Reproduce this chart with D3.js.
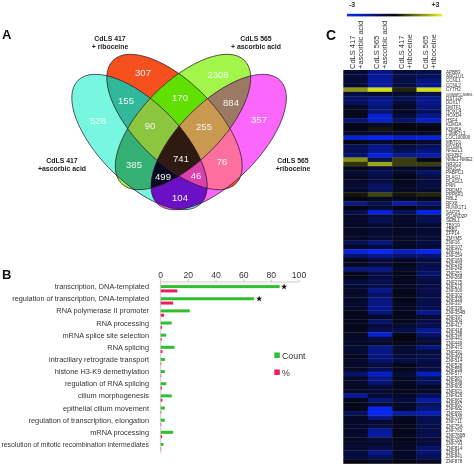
<!DOCTYPE html>
<html><head><meta charset="utf-8">
<script src="https://cdn.jsdelivr.net/npm/d3@7"></script>
<style>html,body{margin:0;padding:0;background:#fff}svg{display:block;filter:blur(0.4px)}text{font-family:"Liberation Sans",Arial,sans-serif}</style>
</head><body><svg id="c" width="474" height="466"></svg>
<script>
// ---- Panel A data
const vennSets = ["C","O","G","M"];
const vennCounts = [528,307,2308,357,155,170,884,385,76,104,90,255,499,46,741];
const vennKeys = ["C","O","G","M","CO","OG","GM","CG","OM","CM","COG","OGM","CGM","COM","COGM"];
const vennColors = ["#78f7e0","#f5501e","#a4f54a","#fb66fb","#2fb99a","#5fe000","#9a7a62","#35b074","#fd6f9f","#6a10c6","#8cc63f","#c8994f","#0a0a1e","#dc3fae","#2e1a10"];
const setNames = [["CdLS 417","+ascorbic acid"],["CdLS 417","+ riboceine"],["CdLS 565","+ ascorbic acid"],["CdLS 565","+riboceine"]];
// ---- Panel B data
const terms = ["transcription, DNA-templated","regulation of transcription, DNA-templated","RNA polymerase II promoter ","RNA processing","mRNA splice site selection","RNA splicing","intraciliary retrograde transport","histone H3-K9 demethylation","regulation of RNA splicing","cilium morphogenesis","epithelial cilium movement","regulation of transcription, elongation","mRNA processing ","resolution of mitotic recombination intermediates"];
const countVals = [86,67.5,21,8,4,10,3,3,4,8,3,3,9,2];
const pctVals = [12,9,2.5,1,0.7,1.3,0.4,0.4,0.9,1.2,0.4,0.4,1,0.3];
const barTicks = [0,20,40,60,80,100];
// ---- Panel C data
const genes = ["APBB3","ARGLU1","CCNL1","CCNL2","CYTH2","GGNBP2-SMB1","DST32F","DDX17","DMTF1","HOXC4","HOXD4","HSF4","KDM3A","KDM5A","L3MBTL3","LOC100000","MBTD1","MYSM1","NFE2L3","NFKBIZ","NME1-NME2","NR3G3","NR2C2","PABPC1","PLAG1","PLAGL1","PNN","PRDM2","PPP6R1","RBL2","RFX8","RUNX1T1","SAP25","SCAND2P","SEBL1","TBX19","ZBB1","ZFP14","ZMYM5","ZNF16","ZNF107","ZNF117","ZNF154","ZNF169","ZNF234","ZNF248","ZNF251","ZNF268","ZNF275","ZNF279","ZNF300","ZNF302","ZNF329","ZNF337","ZNF338","ZNF354B","ZNF397","ZNF404","ZNF417","ZNF418","ZNF438","ZNF441","ZNF449","ZNF471","ZNF491","ZNF493","ZNF514","ZNF528","ZNF559","ZNF577","ZNF587","ZNF599","ZNF605","ZNF621","ZNF626","ZNF662","ZNF667","ZNF682","ZNF692","ZNF700","ZNF711","ZNF75A","ZNF763","ZNF780B","ZNF782","ZNF793","ZNF814","ZNF81","ZNF841","ZNF878"];
const heatCols = [["CdLS 417","+ascorbic acid"],["CdLS 565","+ascorbic acid"],["CdLS 417","+riboceine"],["CdLS 565","+riboceine"]];
const h417asc = [-.5,-.6,-.5,-.5,1.8,-.7,-1.1,-1,-.3,-.2,-.2,-1.3,-.2,-.2,-.4,-2.5,-.1,-.9,-.9,-1.2,1.7,.6,-.2,-.5,-.3,-.3,-.5,-.4,.2,-.1,-1.5,-.1,-.8,-.3,-.4,-.3,-.3,-.3,-.3,-.9,-.4,-2.6,-1.2,-.2,-.2,-1.5,-.2,-.2,-.7,-.5,-.4,-.4,-.4,-.5,-.4,-.2,-.2,-.2,-.2,-.2,-.3,-.4,-.3,-.5,-.5,-.2,-.4,-.4,-.3,-1.2,-.4,-.4,-.3,-.3,-1.8,-.2,-.2,-.2,-1,-.3,-.4,-.4,-.4,-.4,-.3,-.4,-.5,-.6,-.7,-.1];
const h565asc = [-1.5,-1.7,-1.8,-1.8,2.7,-.5,-1.5,-1.6,-1.2,-1.3,-2.4,-2.3,-.4,.2,-.5,-2.8,-.4,-1.5,-1.6,-2.6,-.8,2,-.5,-.9,-.6,-.7,-1.1,-1,.8,-.3,-.8,-.5,-2.6,-.7,-.9,-.5,-.5,-.5,-.5,-1.5,-.6,-2.9,-1.6,-.6,-.5,-1.6,-.7,-.7,-.9,-.8,-1.6,-1.1,-1.4,-1.5,-1.6,-1.3,-.4,-1.2,-.6,-.9,-2.4,-.7,-.3,-1.5,-1.5,-1.4,-1.2,-.6,-.9,-2.3,-1.5,-1.3,-.6,-.5,-.5,-1.4,-.5,-2.8,-2.9,-1.5,-.5,-.6,-1.8,-1.9,-.5,-.5,-.7,-1.6,-1,-.3];
const h417rib = [-.6,-.8,-.7,-.7,.4,-.5,-.9,-.6,-.3,-.3,-.6,-1.2,-.1,-.1,-.3,-2.4,-.1,-.7,-.9,-1.6,.7,.7,-.3,-.4,-.2,-.2,-.4,-.3,.2,-.2,-1.9,-.1,-1,-.4,-.4,-.3,-.3,-.3,-.3,-.4,-.3,-2.2,-1.2,-.3,-.2,-.4,-.2,-.2,-.3,-.3,-.2,-.2,-.2,-.3,-.3,-.2,-.2,-.2,-.5,-.8,-.2,-.1,-.2,-.5,-.5,-.6,-.7,-.2,-.2,-.5,-.3,-.3,-.2,-.2,-.4,-.6,-.4,-.4,-1.9,-.3,-.2,-.2,-.2,-.2,-.2,-.3,-.3,-.3,-.4,-.1];
const h565rib = [-.8,-1,-1.4,-1.6,2.7,-.8,-1.6,-1.5,-1.4,-1,-1.6,-2.3,-.3,-.1,-.3,-2.6,-.4,-1,-1.4,-2,-.2,.7,-.4,-1.2,-.6,-.6,-.7,-.5,.4,-.2,-1.4,-.5,-2.7,-.8,-.9,-.5,-.5,-.5,-.5,-.7,-.5,-2.8,-1.3,-.6,-.8,-.9,-1.2,-.8,-.7,-.7,-.8,-.7,-.8,-.8,-.9,-1.6,-.5,-.8,-.8,-1.7,-1.2,-.7,-.5,-1.4,-.6,-.8,-.8,-.6,-.7,-2.2,-1,-1,-.4,-.4,-1,-1.9,-1,-1.4,-2.1,-.9,-.8,-.8,-.8,-.8,-.6,-.6,-1.2,-1.2,-1,-.3];
const heatSeries = [h417asc,h565asc,h417rib,h565rib];
const heatDomain = [-3,0,3];

const svg = d3.select("#c");
const ink = "#222";
// shrink a text so it stays within a width
const fit = (sel,maxW)=>{const w=sel.node().getComputedTextLength();if(w>maxW)sel.attr("font-size",+sel.attr("font-size")*maxW/w);return sel;};

[["A",2,39,13],["B",2,279,13],["C",326,40,14]].forEach(([t,x,y,s])=>
  svg.append("text").attr("x",x).attr("y",y).attr("font-size",s).attr("font-weight","bold").attr("fill","#111").text(t));

// ---------- Panel A
const ellipses = {C:{cx:139.5,cy:142,rx:87,ry:40,a:45},O:{cx:174.5,cy:122,rx:87,ry:40,a:45},G:{cx:183,cy:122,rx:87,ry:40,a:-45},M:{cx:218.7,cy:142,rx:87,ry:40,a:-45}};
const defs = svg.append("defs");
const shape = (sel,e)=>sel.attr("cx",e.cx).attr("cy",e.cy).attr("rx",e.rx).attr("ry",e.ry).attr("transform",`rotate(${e.a} ${e.cx} ${e.cy})`);
vennSets.forEach(k=>shape(defs.append("clipPath").attr("id","clip"+k).append("ellipse"),ellipses[k]));
const venn = svg.append("g");
const order = d3.range(vennKeys.length).sort((a,b)=>vennKeys[a].length-vennKeys[b].length);
order.forEach(i=>{
  let g = venn; const key = vennKeys[i];
  key.split("").slice(1).forEach(k=>{g=g.append("g").attr("clip-path",`url(#clip${k})`)});
  shape(g.append("ellipse"),ellipses[key[0]]).attr("fill",vennColors[i]);
});
vennSets.forEach(k=>shape(venn.append("ellipse"),ellipses[k]).attr("fill","none").attr("stroke","#2a1a2a").attr("stroke-width",0.7));
const vennLabelPos = [[98,120],[143,72],[218,74],[259,119],[126,100],[180,97],[231,102],[134,164],[222,161],[180,197],[150,125],[204,126],[163,176],[196,175],[181,158]];
vennCounts.forEach((c,i)=>svg.append("text").attr("x",vennLabelPos[i][0]).attr("y",vennLabelPos[i][1]+3.5)
  .attr("text-anchor","middle").attr("font-size",9.5).attr("fill",i===0||i===2||i===3?"#e8fff0":"#f4f4f4").text(c));
const setLabelPos = [[62,160],[110,38],[256,38],[293,160]];
setNames.forEach((s,i)=>s.forEach((t,j)=>svg.append("text").attr("x",setLabelPos[i][0]).attr("y",setLabelPos[i][1]+2.5+j*8)
  .attr("text-anchor","middle").attr("font-size",6.9).attr("font-weight","bold").attr("fill",ink).text(t)));

// ---------- Panel B
const bx = d3.scaleLinear().domain([0,100]).range([160.7,299]);
const by = d3.scaleBand().domain(terms).range([282.5,452.5]);
const bar = svg.append("g");
bar.append("line").attr("x1",bx(0)).attr("x2",bx(100)).attr("y1",282).attr("y2",282).attr("stroke","#ccc");
bar.append("line").attr("x1",bx(0)).attr("x2",bx(0)).attr("y1",279).attr("y2",453).attr("stroke","#ccc");
barTicks.forEach(t=>{
  bar.append("line").attr("x1",bx(t)).attr("x2",bx(t)).attr("y1",279.5).attr("y2",282).attr("stroke","#ccc");
  bar.append("text").attr("x",bx(t)).attr("y",278).attr("text-anchor","middle").attr("font-size",8.6).attr("fill","#333").text(t);
});
terms.forEach((t,i)=>{
  const y0 = by(t);
  fit(bar.append("text").attr("x",149).attr("y",y0+6.7).attr("text-anchor","end").attr("font-size",7.35).attr("fill","#333").text(t),147.5);
  bar.append("rect").attr("x",bx(0)).attr("y",y0+2.6).attr("width",bx(countVals[i])-bx(0)).attr("height",3).attr("fill","#2fc02f");
  bar.append("rect").attr("x",bx(0)).attr("y",y0+6.9).attr("width",bx(pctVals[i])-bx(0)).attr("height",3).attr("fill","#ee1f5e");
  if(i<2) bar.append("text").attr("x",bx(countVals[i])+1.5).attr("y",y0+6.8).attr("font-size",7).attr("font-weight","bold").attr("fill","#111").text("\u2605");
});
[["Count","#2fc02f",355.5],["%","#ee1f5e",372.5]].forEach(([t,c,y])=>{
  bar.append("rect").attr("x",274.3).attr("y",y-3).attr("width",5.5).attr("height",5.5).attr("fill",c);
  bar.append("text").attr("x",282).attr("y",y+3).attr("font-size",8.8).attr("fill","#333").text(t);
});

// ---------- Panel C
const hx = d3.scaleBand().domain(d3.range(heatCols.length)).range([343.3,441]);
const hy = d3.scaleBand().domain(genes).range([70,463.5]);
const hc = d3.scaleLinear().domain(heatDomain).range(["#0828ff","#05050a","#e6f520"]);
heatSeries.forEach((s,c)=>s.forEach((v,r)=>svg.append("rect").attr("x",hx(c)).attr("y",hy(genes[r]))
  .attr("width",hx.bandwidth()+.3).attr("height",hy.bandwidth()+.3).attr("fill",hc(v))));
genes.forEach(g=>fit(svg.append("text").attr("x",446).attr("y",hy(g)+hy.bandwidth()/2+1.5).attr("font-size",4.5).attr("fill","#333").text(g),27));
heatCols.forEach((lines,c)=>lines.forEach((t,j)=>{
  const x = hx(c)+11.5+j*8;
  svg.append("text").attr("transform",`translate(${x},69) rotate(-90)`).attr("font-size",7.5).attr("fill","#333").text(t);
}));
const grad = defs.append("linearGradient").attr("id","lg");
heatDomain.forEach((d,i)=>grad.append("stop").attr("offset",i/2).attr("stop-color",hc(d)));
svg.append("rect").attr("x",347).attr("y",13.8).attr("width",95).attr("height",2.6).attr("fill","url(#lg)");
[["-3",352],["+3",435.5]].forEach(([t,x])=>svg.append("text").attr("x",x).attr("y",6.5).attr("text-anchor","middle").attr("font-size",7).attr("font-weight","bold").attr("fill","#333").text(t));
</script></body></html>
